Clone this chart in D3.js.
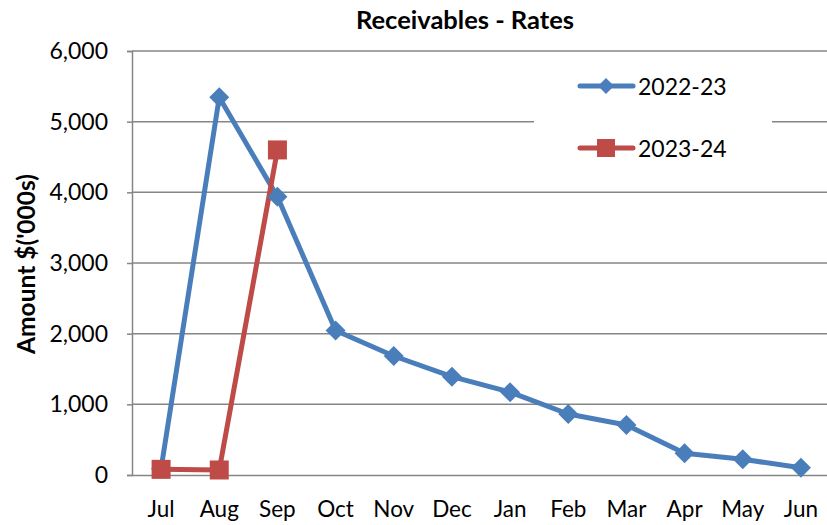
<!DOCTYPE html>
<html><head><meta charset="utf-8">
<script src="https://cdn.jsdelivr.net/npm/d3@7"></script>
<style>body{margin:0;background:#fff;} svg{display:block;font-family:Lato,"Open Sans",sans-serif;}</style>
</head><body>
<svg id="c" width="827" height="525"></svg>
<script>
const months = ["Jul","Aug","Sep","Oct","Nov","Dec","Jan","Feb","Mar","Apr","May","Jun"];
const series2223 = [90,5345,3938,2045,1684,1391,1172,863,707,307,222,103];
const series2324 = [80,71,4600];
const yTicks = [0,1000,2000,3000,4000,5000,6000];
const seriesNames = ["2022-23","2023-24"];
const colors = ["#4a7ebb","#be4b48"];

const svg = d3.select("#c");
const m = {left:132, top:51, right:-3, bottom:50};
const W = 827, H = 525;
const x = d3.scaleBand().domain(months).range([m.left, W - m.right]);
const y = d3.scaleLinear().domain([0,6000]).range([475, m.top]);

// gridlines
svg.append("g").selectAll("line").data(yTicks.filter(d=>d>0)).join("line")
  .attr("x1", m.left).attr("x2", W).attr("y1", d=>y(d)).attr("y2", d=>y(d))
  .attr("stroke","#868686").attr("stroke-width",1.5);

// y axis
const ya = svg.append("g").attr("transform",`translate(${m.left},0)`)
  .call(d3.axisLeft(y).tickValues(yTicks).tickFormat(d3.format(",")).tickSize(5).tickPadding(19));
ya.select(".domain").attr("stroke","#868686").attr("stroke-width",1.5);
ya.selectAll(".tick line").attr("stroke","#868686").attr("stroke-width",1.5);
ya.selectAll(".tick text").attr("font-size",23).attr("fill","#000").attr("font-family","Lato");

// x axis
const xa = svg.append("g").attr("transform",`translate(0,${y(0)})`)
  .call(d3.axisBottom(x).tickSize(0));
xa.select(".domain").attr("stroke","#868686").attr("stroke-width",1.5);
xa.selectAll(".tick text").attr("font-size",22.5).attr("fill","#000").attr("font-family","Lato")
  .attr("y",42).attr("dy",0);

// title
svg.append("text").attr("x",465).attr("y",29).attr("text-anchor","middle")
  .attr("font-weight","bold").attr("font-size",25.5).text("Receivables - Rates");
// y label
svg.append("text").attr("transform","translate(35,264) rotate(-90)").attr("text-anchor","middle")
  .attr("font-weight","bold").attr("font-size",24.5).text("Amount $('000s)");

const line = d3.line().x((d,i)=>x(months[i])+x.bandwidth()/2).y(d=>y(d));
const data = [series2223, series2324];
data.forEach((s,k)=>{
  svg.append("path").attr("d",line(s)).attr("fill","none").attr("stroke",colors[k]).attr("stroke-width",5).attr("stroke-linejoin","round");
});
// markers
const diamond = (cx,cy,r)=>`M${cx},${cy-r}L${cx+r},${cy}L${cx},${cy+r}L${cx-r},${cy}Z`;
svg.append("g").selectAll("path").data(series2223).join("path")
  .attr("d",(d,i)=>diamond(x(months[i])+x.bandwidth()/2, y(d), 10)).attr("fill",colors[0]);
svg.append("g").selectAll("rect").data(series2324).join("rect")
  .attr("x",(d,i)=>x(months[i])+x.bandwidth()/2-9.5).attr("y",d=>y(d)-9.5)
  .attr("width",19).attr("height",19).attr("fill",colors[1]);

// legend
const lg = svg.append("g");
lg.append("rect").attr("x",534).attr("y",60).attr("width",238).attr("height",110).attr("fill","#fff");
const ly = [86,148];
seriesNames.forEach((n,k)=>{
  lg.append("line").attr("x1",580).attr("x2",633).attr("y1",ly[k]).attr("y2",ly[k])
    .attr("stroke",colors[k]).attr("stroke-width",5).attr("stroke-linecap","round");
  if(k===0) lg.append("path").attr("d",diamond(606,ly[k],8)).attr("fill",colors[0]);
  else lg.append("rect").attr("x",597).attr("y",ly[k]-9).attr("width",18).attr("height",18).attr("fill",colors[1]);
  lg.append("text").attr("x",638).attr("y",ly[k]+9).attr("font-size",23).text(n);
});
</script></body></html>
